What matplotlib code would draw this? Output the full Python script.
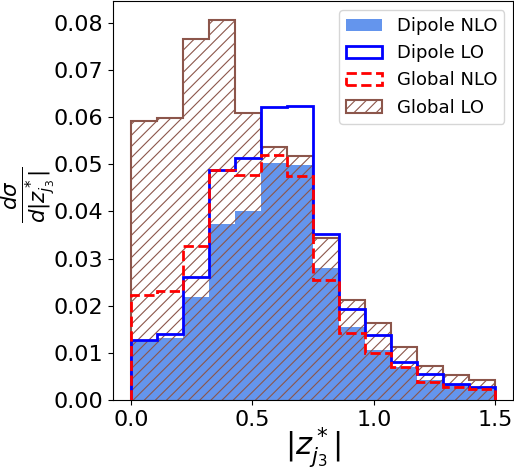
import numpy as np
import matplotlib
matplotlib.use("Agg")
import matplotlib.pyplot as plt

# 14 bins between 0 and 1.5
edges = np.linspace(0, 1.5, 15)
centers = 0.5 * (edges[:-1] + edges[1:])

dipole_nlo = [0.0125, 0.0131, 0.0219, 0.0373, 0.0401, 0.0503, 0.0499,
              0.0279, 0.0155, 0.0106, 0.0071, 0.0042, 0.0032, 0.0023]
dipole_lo = [0.0127, 0.0141, 0.0260, 0.0488, 0.0513, 0.0622, 0.0623,
             0.0353, 0.0193, 0.0137, 0.0081, 0.0055, 0.0034, 0.0027]
global_nlo = [0.0223, 0.0232, 0.0327, 0.0488, 0.0478, 0.0520, 0.0476,
              0.0254, 0.0143, 0.0099, 0.0069, 0.0039, 0.0028, 0.0023]
global_lo = [0.0592, 0.0599, 0.0765, 0.0806, 0.0609, 0.0537, 0.0517,
             0.0343, 0.0212, 0.0163, 0.0113, 0.0073, 0.0053, 0.0042]

plt.rcParams['hatch.linewidth'] = 0.8

fig = plt.figure(figsize=(5.14, 4.72), dpi=100)
ax = fig.add_axes([0.219, 0.1525, 0.780, 0.845])

ax.hist(centers, bins=edges, weights=dipole_nlo, color='#6495ED',
        label='Dipole NLO', zorder=1)
ax.hist(centers, bins=edges, weights=dipole_lo, histtype='step',
        color='blue', lw=2, label='Dipole LO', zorder=3)
ax.hist(centers, bins=edges, weights=global_nlo, histtype='step',
        color='red', lw=2, ls='--', label='Global NLO', zorder=4)
ax.hist(centers, bins=edges, weights=global_lo, histtype='step',
        color='#8c564b', lw=1.5, hatch='///', label='Global LO', zorder=2)

ax.set_xlim(-0.075, 1.575)
ax.set_ylim(0, 0.0846)
ax.set_xticks([0.0, 0.5, 1.0, 1.5])
ax.set_yticks(np.arange(0, 0.081, 0.01))
ax.tick_params(labelsize=16)

ax.set_xlabel(r'$|z^*_{j_3}|$', fontsize=22)
ax.set_ylabel(r'$\frac{d\sigma}{d|z^*_{j_3}|}$', fontsize=22)
ax.xaxis.set_label_coords(0.5, -0.062)
ax.yaxis.set_label_coords(-0.138, 0.515)

ax.legend(loc='upper right', fontsize=13)

fig.savefig('out.png', dpi=100)
